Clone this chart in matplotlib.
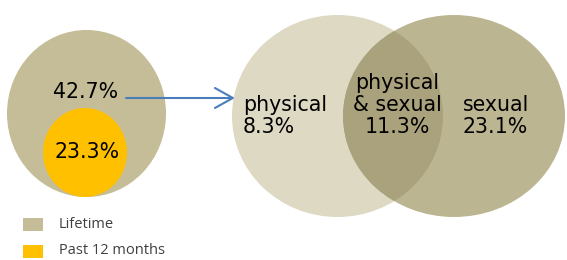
import matplotlib
matplotlib.use("Agg")
import matplotlib.pyplot as plt
from matplotlib.patches import Ellipse, Rectangle, FancyArrowPatch

# values shown on the chart
lifetime_pct = 42.7
past12_pct = 23.3
venn_labels = ["physical", "physical\n& sexual", "sexual"]
venn_values = [8.3, 11.3, 23.1]
legend_labels = ["Lifetime", "Past 12 months"]

c_life = "#c4bd97"
c_past = "#ffc000"
c_phys = "#ddd9c3"
c_sex = "#bbb592"
c_both = "#a9a27c"
c_arrow = "#4a7ebb"
fs = 14.8

fig = plt.figure(figsize=(5.67, 2.6), dpi=100)
ax = fig.add_axes([0, 0, 1, 1])
ax.set_xlim(0, 567)
ax.set_ylim(260, 0)
ax.axis("off")

# left: lifetime / past 12 months
ax.add_patch(Ellipse((86.5, 113.5), 159, 167, color=c_life, lw=0))
ax.add_patch(Ellipse((85, 152.5), 84, 89, color=c_past, lw=0))
ax.text(86, 92, f"{lifetime_pct}%", fontsize=fs, ha="center", va="center", color="black")
ax.text(87, 152, f"{past12_pct}%", fontsize=fs, ha="center", va="center", color="black")

# arrow
ax.add_patch(FancyArrowPatch((126, 98), (235, 98), arrowstyle="->,head_length=4.3,head_width=2.4",
                             color=c_arrow, lw=1.5, mutation_scale=3, shrinkA=0, shrinkB=0))

# venn
e_left = Ellipse((337.5, 116), 211, 202, color=c_phys, lw=0)
e_right = Ellipse((454, 116), 222, 202, color=c_sex, lw=0)
ax.add_patch(e_left)
ax.add_patch(e_right)
overlap = Ellipse((454, 116), 222, 202, color=c_both, lw=0)
ax.add_patch(overlap)
overlap.set_clip_path(e_left)

ax.text(243, 116, f"{venn_labels[0]}\n{venn_values[0]}%", fontsize=fs, ha="left", va="center",
        linespacing=1.1)
ax.text(397, 105, f"{venn_labels[1]}\n{venn_values[1]}%", fontsize=fs, ha="center", va="center",
        linespacing=1.1, multialignment="center")
ax.text(463, 116, f"{venn_labels[2]}\n{venn_values[2]}%", fontsize=fs, ha="left", va="center",
        linespacing=1.1)

# legend
for i, (lab, col) in enumerate(zip(legend_labels, [c_life, c_past])):
    y = 218 + i * 26.5
    ax.add_patch(Rectangle((23, y), 20, 13, color=col, lw=0))
    ax.text(59, y + 6, lab, fontsize=10.5, ha="left", va="center", color="#404040",
            family="Open Sans")

fig.savefig("out.png", dpi=100)
